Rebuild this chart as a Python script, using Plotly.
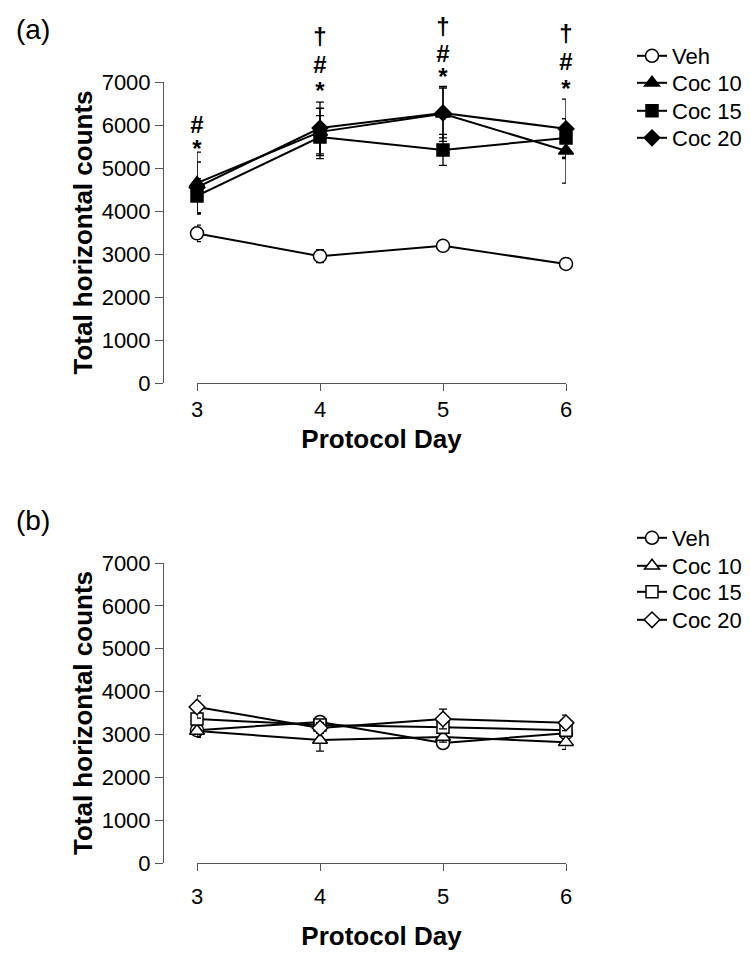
import plotly.graph_objects as go

days = [3, 4, 5, 6]
groups = ["Veh", "Coc 10", "Coc 15", "Coc 20"]

# panel (a)
a_veh = [3480, 2950, 3190, 2770]
a_veh_err = [190, 150, 100, 110]
a_coc10 = [4650, 5840, 6260, 5400]
a_coc10_err = [720, 550, 640, 750]
a_coc15 = [4350, 5720, 5420, 5700]
a_coc15_err = [400, 500, 360, 450]
a_coc20 = [4550, 5930, 6280, 5910]
a_coc20_err = [590, 600, 580, 690]

# panel (b)
b_veh = [3100, 3290, 2800, 3030]
b_veh_err = [150, 100, 120, 100]
b_coc10 = [3080, 2870, 2940, 2820]
b_coc10_err = [150, 260, 120, 170]
b_coc15 = [3360, 3220, 3170, 3100]
b_coc15_err = [150, 120, 150, 120]
b_coc20 = [3640, 3150, 3360, 3270]
b_coc20_err = [260, 120, 230, 180]

# significance marks above panel (a)
sig_day = [3, 3, 4, 4, 4, 5, 5, 5, 6, 6, 6]
sig_y = [5960, 5400, 8000, 7350, 6750, 8240, 7610, 7080, 8070, 7420, 6800]
sig_text = ["#", "*", "†", "#", "*", "†", "#", "*", "†", "#", "*"]

W, H = 750, 959
FONT = "Liberation Sans, Arial, sans-serif"
PX_PER_1000 = 43  # panel (a) scale, used for the hidden axis of the marks

# one small legend per entry so the row spacing matches the original
legend_rows_a = [56, 83, 111, 138]
legend_rows_b = [538, 566, 592, 620]

fig = go.Figure()


def add_series(x, y, err, name, symbol, fill, xa, ya, legend, size=12):
    fig.add_trace(go.Scatter(
        x=x, y=y, name=name, mode="lines+markers",
        xaxis=xa, yaxis=ya, legend=legend, cliponaxis=False,
        line=dict(color="black", width=2),
        marker=dict(symbol=symbol, size=size, color=fill,
                    line=dict(color="black", width=1.5)),
        error_y=dict(type="data", array=err, color="black",
                     thickness=1.3, width=4),
    ))


a_sets = [(a_veh, a_veh_err, "circle", "white", 13),
          (a_coc10, a_coc10_err, "triangle-up", "black", 13),
          (a_coc15, a_coc15_err, "square", "black", 12),
          (a_coc20, a_coc20_err, "diamond", "black", 12)]
for i, (name, (y, e, s, f, sz)) in enumerate(zip(groups, a_sets)):
    add_series(days, y, e, name, s, f, "x", "y", "legend" if i == 0 else f"legend{i + 1}", sz)

b_sets = [(b_veh, b_veh_err, "circle", "white", 13),
          (b_coc10, b_coc10_err, "triangle-up", "white", 13),
          (b_coc15, b_coc15_err, "square", "white", 12),
          (b_coc20, b_coc20_err, "diamond", "white", 12)]
for i, (name, (y, e, s, f, sz)) in enumerate(zip(groups, b_sets)):
    add_series(days, y, e, name, s, f, "x2", "y2", f"legend{i + 5}", sz)

# marks sit above 7000, so they go on a hidden axis with the same scale but a taller domain
fig.add_trace(go.Scatter(
    x=sig_day, y=sig_y, text=sig_text, mode="text", showlegend=False,
    xaxis="x", yaxis="y3", cliponaxis=False, hoverinfo="skip",
    textfont=dict(size=24, family=FONT, color="black", weight="bold"),
))

xdom = [197 / W, 566 / W]
axis_common = dict(showline=True, linecolor="#555", linewidth=1, ticks="outside",
                   tickcolor="#555", showgrid=False, zeroline=False,
                   tickfont=dict(size=22, color="black", family=FONT))

xa = dict(axis_common, range=[3, 6], tickvals=days, ticklen=7, domain=xdom)
title_font = dict(size=26, family=FONT, color="black")
ya = dict(axis_common, range=[0, 7000], dtick=1000, ticklen=8, anchor="free",
          position=163 / W,
          title=dict(text="<b>Total horizontal counts</b>", font=title_font, standoff=0))

legend_common = dict(x=632 / W, xanchor="left", yanchor="middle", bgcolor="rgba(0,0,0,0)",
                     font=dict(size=22, family=FONT, color="black"))
legends = {}
for i, row in enumerate(legend_rows_a + legend_rows_b):
    key = "legend" if i == 0 else f"legend{i + 1}"
    legends[key] = dict(legend_common, y=1 - row / H)

annotations = [
    dict(x=14 / W, y=1 - 30 / H, xref="paper", yref="paper", text="(a)", showarrow=False,
         xanchor="left", yanchor="middle", font=dict(size=28, family=FONT, color="black")),
    dict(x=14 / W, y=1 - 520 / H, xref="paper", yref="paper", text="(b)", showarrow=False,
         xanchor="left", yanchor="middle", font=dict(size=28, family=FONT, color="black")),
]

fig.update_layout(
    width=W, height=H, margin=dict(l=0, r=0, t=0, b=0, autoexpand=False),
    paper_bgcolor="white", plot_bgcolor="rgba(0,0,0,0)",
    font=dict(family=FONT, color="black"),
    xaxis=dict(xa, anchor="y", ticklabelstandoff=0,
               title=dict(text="<b>Protocol Day</b>", font=title_font, standoff=8)),
    yaxis=dict(ya, domain=[1 - 383 / H, 1 - 82 / H]),
    yaxis3=dict(domain=[1 - 383 / H, 1], range=[0, 383 / PX_PER_1000 * 1000],
                visible=False, anchor="x"),
    xaxis2=dict(xa, anchor="y2", ticklabelstandoff=7,
                title=dict(text="<b>Protocol Day</b>", font=title_font, standoff=18)),
    yaxis2=dict(ya, domain=[1 - 863 / H, 1 - 563 / H]),
    annotations=annotations,
    **legends,
)

fig.write_html("out.html", config={"displayModeBar": False},
               post_script="document.body.style.margin='0';")
